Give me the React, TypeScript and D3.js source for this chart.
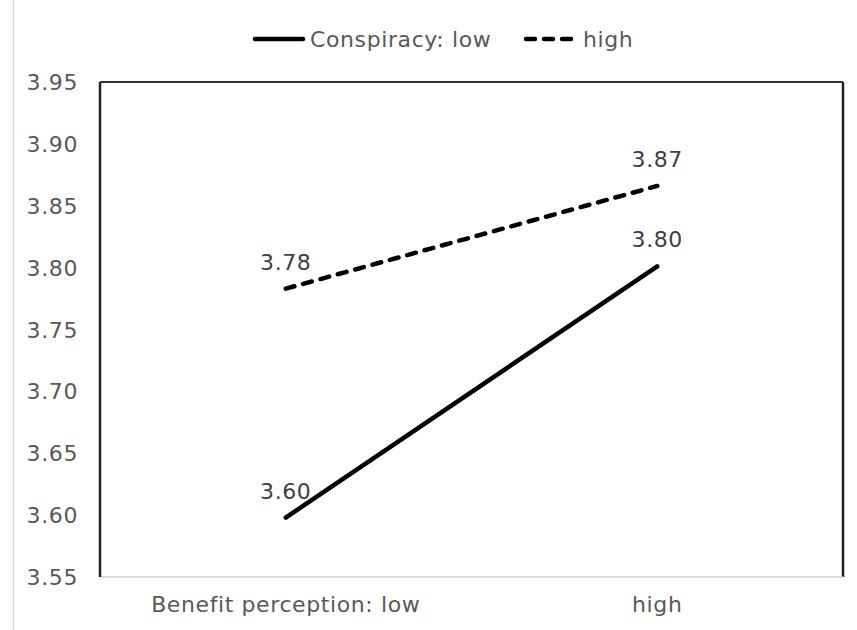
import React from "react";
import * as d3 from "d3";

const categories = ["Benefit perception: low", "high"];
const seriesNames = ["Conspiracy: low", "high"];
const lowConspiracy = [3.598, 3.801];
const highConspiracy = [3.783, 3.866];
const yTicks = [3.55, 3.6, 3.65, 3.7, 3.75, 3.8, 3.85, 3.9, 3.95];

const W = 857;
const H = 630;
const M = { left: 100, right: 843, top: 82, bottom: 577 };
const FONT = "'DejaVu Sans', sans-serif";
const TXT = "#595959";

export default function App() {
  const x = d3.scaleBand<string>().domain(categories).range([M.left, M.right]);
  const y = d3.scaleLinear().domain([3.55, 3.95]).range([M.bottom, M.top]);
  const cx = (c: string) => (x(c) as number) + x.bandwidth() / 2;
  const line = d3
    .line<number>()
    .x((_, i) => cx(categories[i]))
    .y((d) => y(d));
  const series = [
    { name: seriesNames[0], values: lowConspiracy, dash: undefined as string | undefined },
    { name: seriesNames[1], values: highConspiracy, dash: "9,9" },
  ];
  return (
    <svg
      width={W}
      height={H}
      style={{ position: "absolute", left: 0, top: 0, background: "#fff" }}
    >
      <rect x={0} y={0} width={W} height={H} fill="#fff" />
      <line x1={13.5} x2={13.5} y1={0} y2={H} stroke="#d9d9d9" strokeWidth={1.5} />
      {/* plot border */}
      <line x1={M.left} x2={M.right} y1={M.top} y2={M.top} stroke="#333" strokeWidth={2} />
      <line x1={M.right} x2={M.right} y1={M.top} y2={M.bottom} stroke="#222" strokeWidth={2.5} />
      <line x1={M.left} x2={M.right} y1={M.bottom} y2={M.bottom} stroke="#d0d0d0" strokeWidth={1.5} />
      <line x1={M.left} x2={M.left} y1={M.top} y2={M.bottom} stroke="#222" strokeWidth={2.5} />
      {/* y tick labels */}
      {yTicks.map((t) => (
        <text
          key={t}
          x={78}
          y={y(t) + 8}
          textAnchor="end"
          fontFamily={FONT}
          fontSize={22}
          letterSpacing={0.6}
          fill={TXT}
        >
          {t.toFixed(2)}
        </text>
      ))}
      {/* x labels */}
      {categories.map((c) => (
        <text
          key={c}
          x={cx(c)}
          y={612}
          textAnchor="middle"
          fontFamily={FONT}
          fontSize={22}
          letterSpacing={0.6}
          fill={TXT}
        >
          {c}
        </text>
      ))}
      {/* lines */}
      {series.map((s) => (
        <g key={s.name}>
          <path
            d={line(s.values) || ""}
            fill="none"
            stroke="#000"
            strokeWidth={4.5}
            strokeDasharray={s.dash}
            strokeLinecap="round"
          />
          {s.values.map((v, i) => (
            <text
              key={i}
              x={cx(categories[i])}
              y={y(v) - 19}
              textAnchor="middle"
              fontFamily={FONT}
              fontSize={22}
              letterSpacing={0.6}
              fill="#404040"
            >
              {v.toFixed(2)}
            </text>
          ))}
        </g>
      ))}
      {/* legend */}
      <g>
        <line x1={255} x2={303} y1={39} y2={39} stroke="#000" strokeWidth={4.5} strokeLinecap="round" />
        <text x={310} y={47} fontFamily={FONT} fontSize={22} letterSpacing={0.6} fill={TXT}>
          {seriesNames[0]}
        </text>
        <line
          x1={526}
          x2={575}
          y1={39}
          y2={39}
          stroke="#000"
          strokeWidth={4.5}
          strokeDasharray="9,9"
          strokeLinecap="round"
        />
        <text x={583} y={47} fontFamily={FONT} fontSize={22} letterSpacing={0.6} fill={TXT}>
          {seriesNames[1]}
        </text>
      </g>
    </svg>
  );
}
